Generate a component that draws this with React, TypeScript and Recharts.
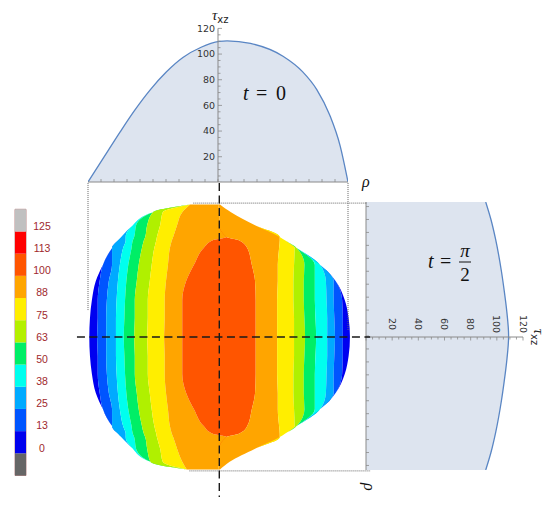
import React from 'react';
import {
  ComposedChart,
  AreaChart,
  BarChart,
  Area,
  Bar,
  XAxis,
  YAxis,
  ReferenceLine,
  ReferenceArea,
} from 'recharts';

// ---------- colour bar (legend) ----------
const legendColors = ['#666666', '#0000ee', '#0055ff', '#00aaff', '#00ffee', '#00ee66', '#b4f000', '#ffee00', '#ffa500', '#ff5500', '#ff0000', '#c0c0c0'];
const legendLabels = ['0', '13', '25', '38', '50', '63', '75', '88', '100', '113', '125'];
const legendTicks = [1, 2, 3, 4, 5, 6, 7, 8, 9, 10, 11];

// ---------- top profile, t = 0 ----------
const topRho = [-100, -88, -75, -64, -52, -40, -27, -13, 1, 7, 25, 50, 65, 76, 86, 94, 100];
const topTau = [0, 19, 39.5, 56, 72, 85.5, 97, 105, 109.5, 110, 108, 98, 86, 72, 52, 28, 0];
const topRhoTicks = [-90, -80, -70, -60, -50, -40, -30, -20, -10, 0, 10, 20, 30, 40, 50, 60, 70, 80, 90];
const tauTicks = [0, 5, 10, 15, 20, 25, 30, 35, 40, 45, 50, 55, 60, 65, 70, 75, 80, 85, 90, 95, 100, 105, 110, 115, 120];

// ---------- side profile, t = pi/2 ----------
const sideRho = [103.5, 90, 75, 50, 36, 20, 0, -20, -36, -50, -75, -90, -103.5];
const sideTau = [91.5, 95.5, 99, 103.5, 105.5, 107.5, 109, 107.5, 105.5, 103.5, 99, 95.5, 91.5];
const sideRhoTicks = [-100, -90, -80, -70, -60, -50, -40, -30, -20, -10, 0, 10, 20, 30, 40, 50, 60, 70, 80, 90, 100];

// ---------- contour map ----------
const contourRho = [102, 96, 86, 77, 74.5, 68.5, 55.5, 43, 28.5, 14.5, 0, -14.5, -28.5, -43, -55.5, -68.5, -74.5, -77, -86, -96, -102];
// per row: left edge, 16 band boundaries, right edge
const contourEdges = [
  [-21.5, -21.5, -21.5, -21.5, -21.5, -21.5, -21.5, -21.5, 0, 0, 1.5, 1.5, 1.5, 1.5, 1.5, 1.5, 1.5, 1.5],
  [-50, -50, -50, -50, -50, -50, -42.5, -27.5, 1, 1, 10, 10, 10, 10, 10, 10, 10, 10],
  [-65.5, -65.5, -65.5, -65.5, -63, -54.5, -44.5, -31.5, 1, 1, 28.5, 28.5, 28.5, 28.5, 28.5, 28.5, 28.5, 28.5],
  [-74.5, -74.5, -74.5, -71, -64.5, -56, -47, -34.5, 6.5, 6.5, 47.5, 47.5, 47.5, 47.5, 47.5, 47.5, 47.5, 47.5],
  [-77, -77, -77, -71, -65.5, -57, -47.5, -35.5, -4, 16, 47.5, 51.5, 51.5, 51.5, 51.5, 51.5, 51.5, 51.5],
  [-81.5, -81.5, -81.5, -73, -66.5, -58.5, -49, -37, -11, 22.5, 47, 59, 60.5, 60.5, 60.5, 60.5, 60.5, 60.5],
  [-88.5, -88.5, -81.5, -75.5, -69, -61, -51, -38.5, -18.5, 26, 46, 58.5, 66.5, 74.5, 78.5, 78.5, 78.5, 78.5],
  [-94, -91, -84, -77, -70.5, -62.5, -52.5, -40, -24.5, 28.5, 46, 58, 66, 74.5, 83, 89, 90.5, 90.5],
  [-97, -92.5, -85.5, -78, -71.5, -64, -54, -41, -27.5, 29, 45.5, 58, 66, 74.5, 83.5, 89, 95.5, 97.5],
  [-98.5, -92.5, -86, -78.5, -72, -64, -54, -41, -27.5, 29, 45.5, 58.5, 66.5, 75, 84, 89.5, 96, 100.5],
  [-99, -93, -86, -78.5, -72.5, -64.5, -54.5, -41.5, -27.5, 29, 45.5, 58.5, 67, 75.5, 84, 90, 96, 101.5],
  [-98.5, -92.5, -86, -78.5, -72, -64, -54, -41, -27.5, 29, 45.5, 58.5, 66.5, 75, 84, 89.5, 96, 100.5],
  [-97, -92.5, -85.5, -78, -71.5, -64, -54, -41, -27.5, 29, 45.5, 58, 66, 74.5, 83.5, 89, 95.5, 97.5],
  [-94, -91, -84, -77, -70.5, -62.5, -52.5, -40, -24.5, 28.5, 46, 58, 66, 74.5, 83, 89, 90.5, 90.5],
  [-88.5, -88.5, -81.5, -75.5, -69, -61, -51, -38.5, -18.5, 26, 46, 58.5, 66.5, 74.5, 78.5, 78.5, 78.5, 78.5],
  [-81.5, -81.5, -81.5, -73, -66.5, -58.5, -49, -37, -11, 22.5, 47, 59, 60.5, 60.5, 60.5, 60.5, 60.5, 60.5],
  [-77, -77, -77, -71, -65.5, -57, -47.5, -35.5, -4, 16, 47.5, 51.5, 51.5, 51.5, 51.5, 51.5, 51.5, 51.5],
  [-74.5, -74.5, -74.5, -71, -64.5, -56, -47, -34.5, 6.5, 6.5, 47.5, 47.5, 47.5, 47.5, 47.5, 47.5, 47.5, 47.5],
  [-65.5, -65.5, -65.5, -65.5, -63, -54.5, -44.5, -31.5, 1, 1, 28.5, 28.5, 28.5, 28.5, 28.5, 28.5, 28.5, 28.5],
  [-52, -52, -52, -52, -52, -52, -42.5, -27.5, 1, 1, 9, 9, 9, 9, 9, 9, 9, 9],
  [-24, -24, -24, -24, -24, -24, -24, -24, 0, 0, 1.5, 1.5, 1.5, 1.5, 1.5, 1.5, 1.5, 1.5],
];
const bandColors = ['#0000f0', '#0055ff', '#00aaff', '#00ffee', '#00ee66', '#b0f000', '#ffee00', '#ffa500', '#ff5500', '#ffa500', '#ffee00', '#b0f000', '#00ee66', '#00ffee', '#00aaff', '#0055ff', '#0000f0'];

// ---------- tables built from the arrays ----------
const legendData = [legendColors.reduce((o: any, _c, i) => { o['c' + i] = 1; return o; }, { name: 'scale' })];
const topData = topRho.map((rho, i) => ({ rho, tau: topTau[i] }));
const sideData = sideRho.map((rho, i) => ({ rho, tau: sideTau[i] }));
const contourData = contourRho.map((r, i) => {
  const e = contourEdges[i];
  const row: any = { r, k0: e[0] };
  for (let j = 1; j < e.length; j++) row['k' + j] = Math.max(0, e[j] - e[j - 1]);
  return row;
});

const AXIS = '#8a8a8a';
const LABEL_FONT = 'DejaVu Sans, Verdana, sans-serif';
const SERIF = 'Liberation Serif, Times New Roman, serif';

const LegendTick = (p: any) => (
  <text x={p.x} y={p.y - 1.7} textAnchor="middle" fill="#a0282d" fontSize={10.5} fontFamily="Liberation Sans, Arial, sans-serif">
    {legendLabels[p.payload.value - 1]}
  </text>
);

const UpTick = (p: any) => <line x1={p.x} y1={p.y} x2={p.x} y2={p.y - 3} stroke={AXIS} strokeWidth={0.8} />;

const TauTick = (p: any) => {
  const v = p.payload.value;
  const major = v % 20 === 0;
  return (
    <g>
      <line x1={p.x} y1={p.y} x2={p.x + (major ? 4 : 2.5)} y2={p.y} stroke={AXIS} strokeWidth={0.8} />
      {major && v > 0 ? (
        <text x={p.x - 3} y={p.y} dy="0.35em" textAnchor="end" fill="#333" fontSize={9.5} fontFamily={LABEL_FONT}>
          {v}
        </text>
      ) : null}
    </g>
  );
};

const RightTick = (p: any) => <line x1={p.x} y1={p.y} x2={p.x + 3} y2={p.y} stroke={AXIS} strokeWidth={0.8} />;

const RotTick = (p: any) => {
  const v = p.payload.value;
  const major = v % 20 === 0;
  const cy = p.y - 13;
  return (
    <g>
      <line x1={p.x} y1={p.y} x2={p.x} y2={p.y + (major ? 3.5 : 2.5)} stroke={AXIS} strokeWidth={0.8} />
      {major && v > 0 ? (
        <text
          x={p.x}
          y={cy}
          transform={`rotate(90, ${p.x}, ${cy})`}
          textAnchor="middle"
          dominantBaseline="central"
          fill="#333"
          fontSize={9.5}
          fontFamily={LABEL_FONT}
        >
          {v}
        </text>
      ) : null}
    </g>
  );
};

export default function App() {
  return (
    <div style={{ position: 'absolute', left: 0, top: 0, width: 550, height: 509, background: '#fff', overflow: 'hidden' }}>
      {/* colour bar */}
      <div style={{ position: 'absolute', left: 0, top: 200 }}>
        <BarChart width={60} height={285} data={legendData} margin={{ top: 9.3, right: 0, bottom: 9.5, left: 15 }} barCategoryGap={0} stackOffset="none">
          <XAxis dataKey="name" type="category" hide />
          <YAxis
            type="number"
            orientation="right"
            domain={[0, 12]}
            ticks={legendTicks}
            interval={0}
            width={34}
            axisLine={false}
            tickLine={false}
            tickSize={0}
            tickMargin={16}
            tick={(p: any) => <LegendTick {...p} />}
          />
          {legendColors.map((c, i) => (
            <Bar key={i} dataKey={'c' + i} stackId="l" fill={c} isAnimationActive={false} />
          ))}
          <ReferenceArea y1={0} y2={12} fill="none" stroke="#a86c6c" strokeWidth={0.8} ifOverflow="visible" />
        </BarChart>
      </div>

      {/* top profile t = 0 */}
      <div style={{ position: 'absolute', left: 88, top: 28 }}>
        <AreaChart width={260} height={164} data={topData} margin={{ top: 0, right: 0, bottom: 0, left: 0 }}>
          <XAxis
            type="number"
            dataKey="rho"
            domain={[-100, 100]}
            ticks={topRhoTicks}
            interval={0}
            height={10}
            tickSize={0}
            tickMargin={0}
            tickLine={false}
            stroke={AXIS}
            tick={(p: any) => <UpTick {...p} />}
            allowDataOverflow
          />
          <YAxis type="number" domain={[0, 120]} hide allowDataOverflow />
          <Area type="monotone" dataKey="tau" stroke="#5a86c4" strokeWidth={1.3} fill="#dde4ef" fillOpacity={1} dot={false} activeDot={false} isAnimationActive={false} />
        </AreaChart>
      </div>

      {/* tau axis of the top profile + its labels */}
      <div style={{ position: 'absolute', left: 178, top: 0 }}>
        <ComposedChart width={120} height={182.4} data={topData} margin={{ top: 28.4, right: 0, bottom: 0, left: 0 }}>
          <XAxis type="number" dataKey="rho" domain={[-100, 100]} hide />
          <YAxis
            type="number"
            domain={[0, 120]}
            ticks={tauTicks}
            interval={0}
            width={40}
            tickSize={0}
            tickMargin={0}
            tickLine={false}
            stroke={AXIS}
            tick={(p: any) => <TauTick {...p} />}
            allowDataOverflow
          />
          <text x={34} y={20} fontFamily={SERIF} fill="#222">
            <tspan fontStyle="italic" fontSize={15}>τ</tspan>
            <tspan dy={3} fontSize={10} fontFamily={LABEL_FONT}>xz</tspan>
          </text>
          <text y={100} fontFamily={SERIF} fontSize={20} fill="#111">
            <tspan x={65} fontStyle="italic">t</tspan>
            <tspan x={78}>=</tspan>
            <tspan x={98}>0</tspan>
          </text>
        </ComposedChart>
      </div>

      {/* side profile t = pi/2 */}
      <div style={{ position: 'absolute', left: 340, top: 190 }}>
        <ComposedChart layout="vertical" width={210} height={310} data={sideData} margin={{ top: 12, right: 27, bottom: 30, left: 24 }}>
          <XAxis type="number" domain={[0, 120]} hide allowDataOverflow />
          <YAxis
            type="number"
            dataKey="rho"
            domain={[-103.5, 103.5]}
            reversed
            ticks={sideRhoTicks}
            interval={0}
            width={2}
            tickSize={0}
            tickMargin={0}
            tickLine={false}
            stroke={AXIS}
            tick={(p: any) => <RightTick {...p} />}
            allowDataOverflow
          />
          <Area type="monotoneY" dataKey="tau" stroke="#5a86c4" strokeWidth={1.3} fill="#dde4ef" fillOpacity={1} dot={false} activeDot={false} isAnimationActive={false} />
          <text x={23.5} y={293} transform="rotate(90, 23.5, 293)" fontFamily={SERIF} fontSize={16} fontStyle="italic" fill="#111">ρ</text>
        </ComposedChart>
      </div>

      {/* tau axis of the side profile + its labels */}
      <div style={{ position: 'absolute', left: 340, top: 230 }}>
        <ComposedChart layout="vertical" width={210} height={119} data={sideData} margin={{ top: 0, right: 27, bottom: 0, left: 26 }}>
          <XAxis
            type="number"
            domain={[0, 120]}
            ticks={tauTicks}
            interval={0}
            height={12}
            tickSize={0}
            tickMargin={0}
            tickLine={false}
            stroke={AXIS}
            tick={(p: any) => <RotTick {...p} />}
            allowDataOverflow
          />
          <YAxis type="number" dataKey="rho" domain={[-103.5, 103.5]} reversed hide />
          <text x={193.5} y={107} transform="rotate(90, 193.5, 107)" textAnchor="middle" fontFamily={SERIF} fill="#222">
            <tspan fontStyle="italic" fontSize={15}>τ</tspan>
            <tspan dy={3} fontSize={10} fontFamily={LABEL_FONT}>xz</tspan>
          </text>
          <text y={38} fontFamily={SERIF} fontSize={20} fill="#111">
            <tspan x={88} fontStyle="italic">t</tspan>
            <tspan x={100}>=</tspan>
          </text>
          <text x={125} y={27} textAnchor="middle" fontFamily={SERIF} fontSize={19} fontStyle="italic" fill="#111">π</text>
          <line x1={119} y1={32} x2={131} y2={32} stroke="#111" strokeWidth={1} />
          <text x={125} y={51} textAnchor="middle" fontFamily={SERIF} fontSize={19} fill="#111">2</text>
        </ComposedChart>
      </div>

      {/* contour map */}
      <div style={{ position: 'absolute', left: 49, top: 168 }}>
        <ComposedChart layout="vertical" width={338} height={338} data={contourData} margin={{ top: 0, right: 0, bottom: 0, left: 0 }} stackOffset="none">
          <XAxis type="number" domain={[-130, 130]} hide allowDataOverflow />
          <YAxis type="number" dataKey="r" domain={[-130, 130]} reversed hide allowDataOverflow />
          <Area type="monotoneY" dataKey="k0" stackId="c" fill="none" stroke="none" dot={false} activeDot={false} isAnimationActive={false} />
          {bandColors.map((c, i) => (
            <Area
              key={i}
              type="monotoneY"
              dataKey={'k' + (i + 1)}
              stackId="c"
              fill={c}
              fillOpacity={1}
              stroke="none"
              dot={false}
              activeDot={false}
              isAnimationActive={false}
            />
          ))}
          <ReferenceLine segment={[{ x: -100, y: 118.5 }, { x: -100, y: 20 }]} stroke="#666" strokeDasharray="1 1" />
          <ReferenceLine segment={[{ x: 100, y: 118.5 }, { x: 100, y: 5 }]} stroke="#666" strokeDasharray="1 1" />
          <ReferenceLine segment={[{ x: -19, y: 103 }, { x: 114.5, y: 103 }]} stroke="#666" strokeDasharray="1 1" />
          <ReferenceLine segment={[{ x: -22, y: -103 }, { x: 117, y: -103 }]} stroke="#666" strokeDasharray="1 1" />
          <ReferenceLine segment={[{ x: 1, y: 118.5 }, { x: 1, y: -123 }]} stroke="#1a1a1a" strokeWidth={1.4} strokeDasharray="8 4.5" />
          <ReferenceLine segment={[{ x: -108.5, y: 0 }, { x: 117, y: 0 }]} stroke="#1a1a1a" strokeWidth={1.4} strokeDasharray="8 4.5" />
          <text x={313} y={19} fontFamily={SERIF} fontSize={16} fontStyle="italic" fill="#111">ρ</text>
        </ComposedChart>
      </div>
    </div>
  );
}
